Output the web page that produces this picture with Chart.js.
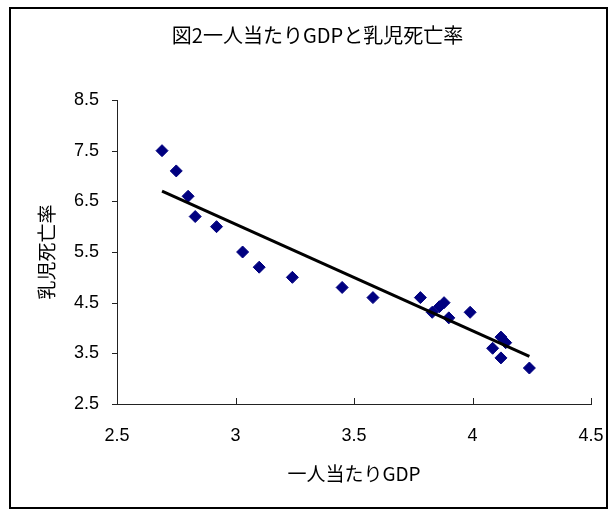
<!DOCTYPE html>
<html>
<head>
<meta charset="utf-8">
<script src="https://cdn.jsdelivr.net/npm/chart.js@4.4.1/dist/chart.umd.min.js"></script>
<style>
  html, body { margin: 0; padding: 0; background: #fff; }
  #wrap { position: relative; width: 615px; height: 510px; }
  #frame { position: absolute; left: 9px; top: 7px; width: 595px; height: 498px; border: 2px solid #000; }
  canvas { position: absolute; left: 0; top: 0; }
</style>
</head>
<body>
<div id="wrap">
  <div id="frame"></div>
  <canvas id="scatterChart" width="615" height="510"></canvas>
</div>
<script>
// 一人当たりGDP (log) vs 乳児死亡率 (log)
const gdpValues = [2.69, 2.75, 2.80, 2.83, 2.92, 3.03, 3.10, 3.24, 3.45, 3.58, 3.78,
  3.88, 3.86, 3.83, 3.90, 3.99, 4.12, 4.14, 4.085, 4.12, 4.24];
const mortalityValues = [7.5, 7.1, 6.6, 6.2, 6.0, 5.5, 5.2, 5.0, 4.8, 4.6, 4.6,
  4.5, 4.42, 4.31, 4.2, 4.31, 3.82, 3.71, 3.6, 3.41, 3.21];
// trend line end points
const trendX = [2.69, 4.24];
const trendY = [6.70, 3.44];

const titleText = '図2一人当たりGDPと乳児死亡率';
const xTitle = '一人当たりGDP';
const yTitle = '乳児死亡率';

const cjk = '"Noto Sans CJK JP", "Noto Sans", sans-serif';
const latin = '"Liberation Sans", Arial, sans-serif';

// ticks: y outside (left), x inside (up)
const tickMarks = {
  id: 'tickMarks',
  afterDraw(chart) {
    const { ctx, scales: { x, y }, chartArea } = chart;
    ctx.save();
    ctx.strokeStyle = '#222';
    ctx.lineWidth = 1;
    ctx.beginPath();
    y.ticks.forEach(t => {
      const py = Math.round(y.getPixelForValue(t.value)) + 0.5;
      ctx.moveTo(chartArea.left - 5, py);
      ctx.lineTo(chartArea.left, py);
    });
    x.ticks.forEach(t => {
      const px = Math.round(x.getPixelForValue(t.value)) + 0.5;
      ctx.moveTo(px, chartArea.bottom);
      ctx.lineTo(px, chartArea.bottom - 6);
    });
    ctx.stroke();
    ctx.restore();
  }
};

new Chart(document.getElementById('scatterChart').getContext('2d'), {
  type: 'scatter',
  data: {
    datasets: [
      {
        label: 'data',
        data: gdpValues.map((g, i) => ({ x: g, y: mortalityValues[i] })),
        pointStyle: 'rectRot',
        pointRadius: 6,
        pointBackgroundColor: '#000080',
        pointBorderColor: '#000080',
        pointBorderWidth: 1,
        order: 2,
      },
      {
        type: 'line',
        label: 'trend',
        data: trendX.map((t, i) => ({ x: t, y: trendY[i] })),
        borderColor: '#000',
        borderWidth: 3,
        pointRadius: 0,
        fill: false,
        order: 1,
      },
    ],
  },
  options: {
    responsive: false,
    animation: false,
    layout: { padding: { left: 44, right: 24, top: 0, bottom: 0 } },
    plugins: {
      legend: { display: false },
      tooltip: { enabled: false },
      title: {
        display: true, text: titleText, color: '#000',
        font: { family: cjk, size: 20, weight: 'normal' },
        padding: { top: 23, bottom: 53 },
      },
    },
    scales: {
      x: {
        type: 'linear', min: 2.5, max: 4.5,
        afterFit: s => { s.height = 106; s.paddingLeft = 0; s.paddingRight = 0; },
        grid: { display: false, drawTicks: false },
        border: { display: true, color: '#222', width: 1 },
        ticks: { stepSize: 0.5, padding: 21, color: '#000', font: { family: latin, size: 18 }, callback: v => String(+v.toFixed(2)) },
        title: { display: true, text: xTitle, color: '#000', font: { family: cjk, size: 19 }, padding: { top: 0, bottom: 25 } },
      },
      y: {
        type: 'linear', min: 2.5, max: 8.5,
        afterFit: s => { s.width = 73; },
        grid: { display: false, drawTicks: false },
        border: { display: true, color: '#222', width: 1 },
        ticks: { stepSize: 1, padding: 18, color: '#000', font: { family: latin, size: 18 } },
        title: { display: true, text: yTitle, color: '#000', font: { family: cjk, size: 19 }, padding: { top: -9, bottom: 0 } },
      },
    },
  },
  plugins: [tickMarks],
});
</script>
</body>
</html>
